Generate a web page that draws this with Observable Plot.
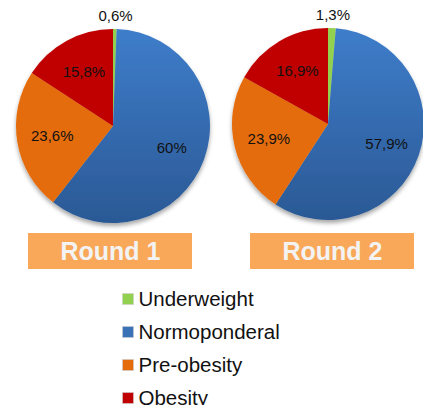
<!DOCTYPE html>
<html><head><meta charset="utf-8">
<script src="https://cdn.jsdelivr.net/npm/d3@7"></script>
<script src="https://cdn.jsdelivr.net/npm/@observablehq/plot@0.6"></script>
<style>html,body{margin:0;padding:0;background:#fff} svg{display:block}</style>
</head><body><div id="chart"></div>
<script>
const categories = ["Underweight", "Normoponderal", "Pre-obesity", "Obesity"];
const colors = ["#92D050", "url(#blueGrad)", "#E46C0A", "#C00000"];
const legendColors = ["#92D050", "#3A72B8", "#E46C0A", "#C00000"];
const rounds = ["Round 1", "Round 2"];
const round1Values = [0.6, 60, 23.6, 15.8];
const round2Values = [1.3, 57.9, 23.9, 16.9];

const W = 423, H = 405;
const pies = [
  {round: rounds[0], cx: 113, cy: 126, r: 97, values: round1Values, bx1: 28, bx2: 192},
  {round: rounds[1], cx: 328, cy: 124, r: 96, values: round2Values, bx1: 250, bx2: 414}
];
const slices = pies.flatMap(p =>
  d3.pie().sort(null)(p.values).map((a, i) => ({
    ...a, round: p.round, cx: p.cx, cy: p.cy, r: p.r,
    category: categories[i], color: colors[i], value: p.values[i],
    mid: (a.startAngle + a.endAngle) / 2
  }))
);
const fmt = v => String(v).replace(".", ",") + "%";
const labelR = d => d.value < 5 ? d.r + 13 : d.r * 0.64;

function pieMark(index, scales) {
  const g = d3.create("svg:g");
  const defs = g.append("defs");
  const grad = defs.append("linearGradient").attr("id", "blueGrad")
    .attr("x1", 0).attr("y1", 0).attr("x2", 0).attr("y2", 1);
  grad.append("stop").attr("offset", "0%").attr("stop-color", "#3E7DCA");
  grad.append("stop").attr("offset", "100%").attr("stop-color", "#2B5995");
  const f = defs.append("filter").attr("id", "pieShadow")
    .attr("x", "-10%").attr("y", "-10%").attr("width", "120%").attr("height", "125%");
  f.append("feDropShadow").attr("dx", 0).attr("dy", 3).attr("stdDeviation", 2)
    .attr("flood-color", "#000").attr("flood-opacity", 0.35);
  for (const p of pies) {
    const pg = g.append("g")
      .attr("transform", `translate(${scales.x(p.cx)},${scales.y(p.cy)})`)
      .attr("filter", "url(#pieShadow)");
    const arc = d3.arc().innerRadius(0).outerRadius(p.r);
    for (const s of slices.filter(s => s.round === p.round)) {
      pg.append("path").attr("d", arc(s)).attr("fill", s.color);
    }
  }
  return g.node();
}

const chart = Plot.plot({
  width: W, height: H,
  margin: 0,
  x: {domain: [0, W], range: [0, W], axis: null},
  y: {domain: [0, H], range: [0, H], axis: null},
  style: {fontFamily: "'Liberation Sans', Arial, sans-serif", background: "#fff"},
  marks: [
    pieMark,
    Plot.text(slices, {
      x: d => d.cx + Math.sin(d.mid) * labelR(d),
      y: d => d.cy - Math.cos(d.mid) * labelR(d),
      text: d => fmt(d.value),
      fontSize: 15, fill: "#111"
    }),
    Plot.rect(pies, {x1: "bx1", x2: "bx2", y1: 233, y2: 269, fill: "#F8A858"}),
    Plot.text(pies, {
      x: d => (d.bx1 + d.bx2) / 2, y: 251, text: "round",
      fontSize: 25, fontWeight: "bold", fill: "#F3F3F3"
    }),
    Plot.dot(categories, {
      x: 127.5, y: (d, i) => 298.5 + 33 * i, symbol: "square", r: 6.2,
      fill: (d, i) => legendColors[i], stroke: "#ccc", strokeWidth: 0.6
    }),
    Plot.text(categories, {
      x: 138, y: (d, i) => 299 + 33 * i, text: d => d,
      textAnchor: "start", fontSize: 20.5, fill: "#111"
    })
  ]
});
document.getElementById("chart").append(chart);
</script>
</body></html>
